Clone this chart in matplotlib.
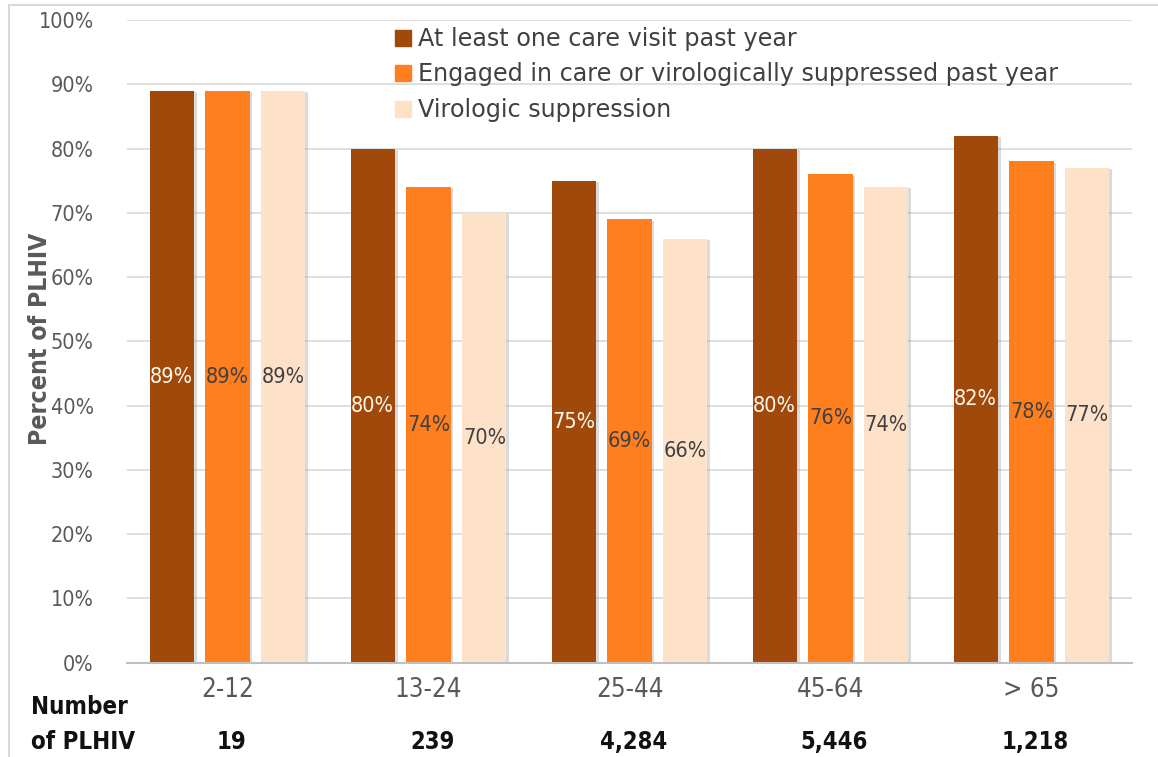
import matplotlib
matplotlib.use("Agg")
import matplotlib.pyplot as plt
import matplotlib.patheffects as pe
from matplotlib.lines import Line2D
import numpy as np

categories = ["2-12", "13-24", "25-44", "45-64", "> 65"]
counts = ["19", "239", "4,284", "5,446", "1,218"]
series_names = ["At least one care visit past year",
                "Engaged in care or virologically suppressed past year",
                "Virologic suppression"]
care_visit = [89, 80, 75, 80, 82]
engaged = [89, 74, 69, 76, 78]
suppression = [89, 70, 66, 74, 77]
yticks = [0, 10, 20, 30, 40, 50, 60, 70, 80, 90, 100]

colors = ["#A0490A", "#FF7F1E", "#FDE2C9"]
label_colors = ["#FFF8EE", "#404040", "#404040"]
FONT = "DejaVu Sans"
COND = "condensed"

W, H = 1158, 757
fig = plt.figure(figsize=(W / 100, H / 100), dpi=100)
ax = fig.add_axes([127 / W, 1 - 662.7 / H, (1132 - 127) / W, (662.7 - 20) / H])

x = np.arange(len(categories))
bw = 0.22
step = 0.278
series = [care_visit, engaged, suppression]
shadow = [pe.SimplePatchShadow(offset=(2, -1), shadow_rgbFace="#9a9a9a", alpha=0.35), pe.Normal()]
for i, (vals, c) in enumerate(zip(series, colors)):
    xs = x + (i - 1) * step
    bars = ax.bar(xs, vals, width=bw, color=c, zorder=3, label=series_names[i])
    for b in bars:
        b.set_path_effects(shadow)
    for xi, v in zip(xs, vals):
        ax.text(xi, v / 2, f"{v}%", ha="center", va="center", fontsize=15.5,
                family=FONT, fontstretch=COND, color=label_colors[i], zorder=4)

ax.set_xlim(-0.5, len(categories) - 0.5)
ax.set_ylim(0, 100)
ax.set_yticks(yticks)
ax.set_yticklabels([f"{t}%" for t in yticks], family=FONT, fontstretch=COND,
                   fontsize=15.5, color="#595959")
ax.set_xticks(x)
ax.set_xticklabels(categories, family=FONT, fontstretch=COND, fontsize=18.5, color="#595959")
ax.tick_params(axis="both", length=0)
ax.tick_params(axis="y", pad=24)
ax.tick_params(axis="x", pad=10)
ax.grid(axis="y", color="#D9D9D9", linewidth=1.2, zorder=0)
for s in ["top", "right", "left"]:
    ax.spines[s].set_visible(False)
ax.spines["bottom"].set_color("#BFBFBF")
ax.spines["bottom"].set_linewidth(1.5)
ax.spines["bottom"].set_zorder(5)

fig.text(40 / W, 1 - 339 / H, "Percent of PLHIV", rotation=90, ha="center", va="center",
         family=FONT, fontstretch=COND, fontsize=17.8, fontweight="bold", color="#595959")

# Number of PLHIV row
fig.text(31 / W, 1 - 707 / H, "Number", ha="left", va="center", family=FONT,
         fontstretch=COND, fontsize=17.3, fontweight="bold", color="#111111")
fig.text(31 / W, 1 - 742 / H, "of PLHIV", ha="left", va="center", family=FONT,
         fontstretch=COND, fontsize=17.3, fontweight="bold", color="#111111")
for xi, n in zip(x, counts):
    ax.annotate(n, xy=(xi, 0), xycoords=("data", "axes fraction"),
                xytext=(4, -(742 - 662.7)), textcoords="offset pixels",
                ha="center", va="center", family=FONT, fontstretch=COND,
                fontsize=17, fontweight="bold", color="#111111", annotation_clip=False)

handles = [Line2D([], [], marker="s", linestyle="none", markersize=11,
                  markerfacecolor=c, markeredgecolor=c) for c in colors]
leg = fig.legend(handles, series_names, loc="upper left",
                 bbox_to_anchor=(394 / W, 1 - 27 / H), frameon=False,
                 prop={"family": FONT, "size": 17.2},
                 handlelength=0.75, handletextpad=0.25, labelspacing=0.48,
                 borderaxespad=0, borderpad=0)
for t in leg.get_texts():
    t.set_color("#404040")

# outer frame lines (top and left)
fig.add_artist(Line2D([9 / W, 1], [1 - 5 / H, 1 - 5 / H], color="#D9D9D9", linewidth=1.5,
                      transform=fig.transFigure))
fig.add_artist(Line2D([9 / W, 9 / W], [0, 1 - 5 / H], color="#D9D9D9", linewidth=1.5,
                      transform=fig.transFigure))

fig.savefig("out.png", dpi=100)
